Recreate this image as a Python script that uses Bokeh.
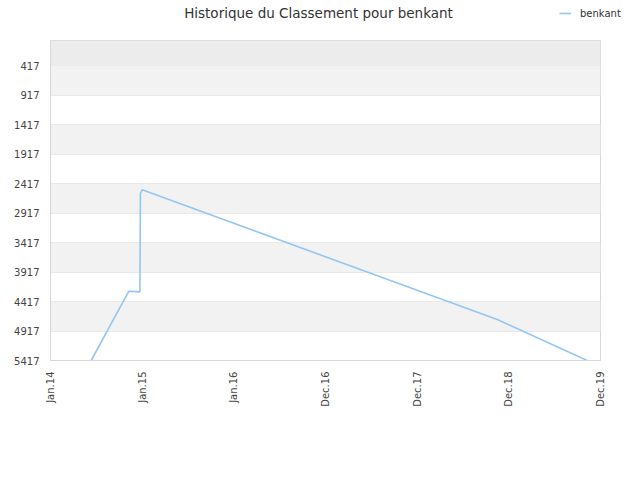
from datetime import datetime
from math import pi

from bokeh.plotting import figure
from bokeh.layouts import column, row
from bokeh.models import (Range1d, FixedTicker, DatetimeTickFormatter, Legend,
                          LegendItem, Label, ColumnDataSource)
from bokeh.embed import file_html
from bokeh.resources import INLINE

# ---- data ----
title_text = "Historique du Classement pour benkant"
series_name = "benkant"
dates = ["2014-06-12", "2014-11-09", "2014-12-23", "2014-12-25",
         "2015-01-01", "2018-11-15", "2019-11-08"]
ranks = [5417, 4242, 4253, 2586, 2524, 4722, 5417]

y_ticks = [417, 917, 1417, 1917, 2417, 2917, 3417, 3917, 4417, 4917, 5417]
y_top = -7
x_ticks = ["2014-01-01", "2015-01-01", "2016-01-01", "2016-12-31",
           "2017-12-31", "2018-12-31", "2019-12-31"]

def d(s):
    return datetime.strptime(s, "%Y-%m-%d")

xs = [d(s) for s in dates]
x_tick_dt = [d(s) for s in x_ticks]
epoch = datetime(1970, 1, 1)
x_tick_ms = [(t - epoch).total_seconds() * 1000.0 for t in x_tick_dt]

FONT = "DejaVu Sans"
LINE_COLOR = "#94c6f4"
LINE_W = 1.6
W = 624
HEAD_H = 39

src = ColumnDataSource(dict(x=xs, y=ranks))

# ---- header (title + legend) ----
head = figure(width=W, height=HEAD_H, output_backend="svg", toolbar_location=None,
              x_range=Range1d(0, 1), y_range=Range1d(0, 1),
              x_axis_location=None, y_axis_location=None,
              min_border_left=0, min_border_right=0,
              min_border_top=0, min_border_bottom=0)
head.grid.visible = False
head.outline_line_color = None
head.background_fill_color = "white"
head.border_fill_color = "white"

head.add_layout(Label(x=318, y=HEAD_H - 12, x_units="screen", y_units="screen",
                      text=title_text, text_font=FONT, text_font_size="13.5px",
                      text_color="#333333", text_align="center",
                      text_baseline="middle"))

# legend key: same series (lies outside this header's ranges, so only the key shows)
key = head.line("x", "y", source=src, line_color=LINE_COLOR, line_width=LINE_W)
legend = Legend(items=[LegendItem(label=series_name, renderers=[key])],
                location=(559, HEAD_H - 13 - 6), orientation="horizontal",
                padding=0, margin=0, spacing=0,
                glyph_width=12, glyph_height=12, label_height=12,
                label_standoff=9,
                label_text_font=FONT, label_text_font_size="10px",
                label_text_color="#333333", label_text_baseline="middle",
                border_line_color=None, background_fill_alpha=0)
head.add_layout(legend, "center")

# ---- main chart ----
p = figure(width=W, height=425, x_axis_type="datetime",
           output_backend="svg", toolbar_location=None,
           x_range=Range1d(x_tick_dt[0], x_tick_dt[-1]),
           y_range=Range1d(y_ticks[-1], y_top),
           min_border_left=50, min_border_right=24,
           min_border_top=1, min_border_bottom=104)

p.background_fill_color = "white"
p.border_fill_color = "white"
p.outline_line_color = "#d8d8d8"
p.outline_line_width = 1

# bands
gray_lo = y_ticks[0:-1:2]
gray_hi = y_ticks[1::2]
p.hstrip(y0=gray_lo, y1=gray_hi, fill_color="#f2f2f2", line_color=None)
p.hstrip(y0=[y_top], y1=[y_ticks[0]], fill_color="#ececec", line_color=None)

# grid
p.xgrid.visible = False
p.ygrid.ticker = FixedTicker(ticks=y_ticks)
p.ygrid.grid_line_color = "#e0e0e0"
p.ygrid.grid_line_width = 1

r = p.line("x", "y", source=src, line_color=LINE_COLOR, line_width=LINE_W)

# axes
p.yaxis.ticker = FixedTicker(ticks=y_ticks)
p.xaxis.ticker = FixedTicker(ticks=x_tick_ms)
fmt = "%b.%y"
p.xaxis.formatter = DatetimeTickFormatter(
    milliseconds=fmt, seconds=fmt, minsec=fmt, minutes=fmt, hourmin=fmt,
    hours=fmt, days=fmt, months=fmt, years=fmt)
p.xaxis.major_label_orientation = pi / 2
for ax in (p.xaxis, p.yaxis):
    ax.axis_line_color = "#d8d8d8"
    ax.major_tick_line_color = None
    ax.minor_tick_line_color = None
    ax.major_label_text_font = FONT
    ax.major_label_text_font_size = "10px"
    ax.major_label_text_color = "#444444"

layout = column(row(head), p, spacing=0)

open("out.html", "w").write(file_html(layout, INLINE))
